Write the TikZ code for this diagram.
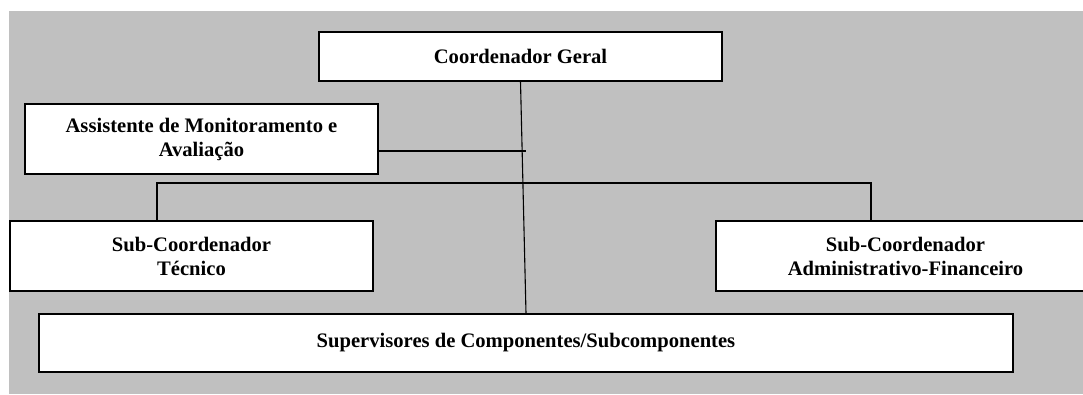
\documentclass[tikz,border=0pt]{standalone}
\usepackage{fontspec}
\setmainfont{Liberation Serif}
\definecolor{bggray}{RGB}{192,192,192}
\begin{document}
\begin{tikzpicture}[x=1pt,y=-1pt,
  box/.style={draw=black,line width=1.2pt,fill=white,inner sep=0pt,align=center,
    font=\bfseries\fontsize{20.6}{24}\selectfont},
  conn/.style={draw=black,line width=1.1pt}]
\useasboundingbox (0,0) rectangle (1083,394);
\fill[bggray] (9,11) rectangle (1083,394);
\node[box,minimum width=403pt,minimum height=49pt] (cg) at (520.5,56.5) {Coordenador Geral};
\node[box,minimum width=353pt,minimum height=70pt] (am) at (201.5,139) {Assistente de Monitoramento e\\Avaliação};
\node[box,minimum width=363pt,minimum height=70pt] (sct) at (191.5,256) {Sub-Coordenador\\Técnico};
\node[box,minimum width=379pt,minimum height=70pt] (saf) at (905.5,256) {Sub-Coordenador\\Administrativo-Financeiro};
\node[box,minimum width=974pt,minimum height=58pt] (sup) at (526,343) {Supervisores de Componentes/Subcomponentes};
\coordinate (amj) at (526,151);
\coordinate (bl) at (157,183);
\coordinate (br) at (871,183);
\draw[conn] ([yshift=-12pt]am.east) -- (amj);
\draw[conn] (sct.north -| bl) -- (bl) -- (br) -- (saf.north -| br);
\draw[conn] (cg.south) -- (sup.north);
\end{tikzpicture}
\end{document}
